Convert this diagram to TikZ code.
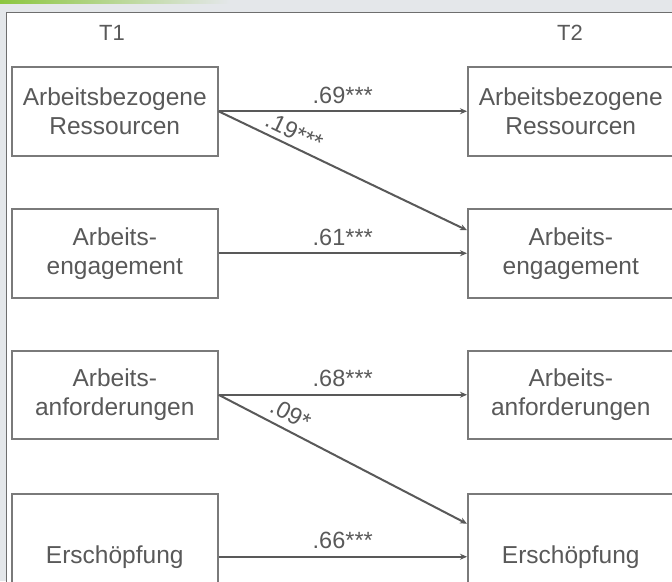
\documentclass[tikz,border=0pt]{standalone}
\usepackage{fontspec}
\setmainfont{Liberation Sans}
\usetikzlibrary{arrows.meta,calc}
\definecolor{txt}{HTML}{595959}
\definecolor{bordc}{HTML}{7A7A7A}
\definecolor{arrc}{HTML}{595959}
\definecolor{bgc}{HTML}{E4E7EA}
\definecolor{framec}{HTML}{6E6E6E}
\definecolor{grn}{HTML}{8CC63F}
\begin{document}
\begin{tikzpicture}[x=1pt,y=-1pt,
  var/.style={draw=bordc, line width=1.5pt, fill=white, text=txt,
    font=\fontsize{24.5}{29}\selectfont, align=center,
    minimum width=206pt, inner sep=0pt, anchor=north west},
  ttl/.style={text=txt, font=\fontsize{22}{26}\selectfont, inner sep=0pt},
  arr/.style={draw=arrc, line width=2pt, -{Stealth[length=7pt,width=6pt]}},
  lab/.style={text=txt, font=\fontsize{23.5}{27}\selectfont, inner sep=0pt}]
\useasboundingbox (0,0) rectangle (672,581);
\clip (0,0) rectangle (672,581);
\fill[bgc] (0,0) rectangle (672,581);
\shade[left color=grn, right color=bgc] (0,0) rectangle (230,3);
\filldraw[fill=white, draw=framec, line width=1pt] (6,12) rectangle (700,620);

\node[ttl] (t1) at (112,33) {T1};
\node[ttl] (t2) at (570,33) {T2};

\node[var, minimum height=89pt] (l1) at (11,66) {Arbeitsbezogene\\Ressourcen};
\node[var, minimum height=89pt] (l2) at (11,208) {Arbeits-\\engagement};
\node[var, minimum height=88pt] (l3) at (11,350) {Arbeits-\\anforderungen};
\node[var, minimum height=126pt] (l4) at (11,493) {Ersch\"opfung};

\node[var, minimum height=89pt] (r1) at (467,66) {Arbeitsbezogene\\Ressourcen};
\node[var, minimum height=89pt] (r2) at (467,208) {Arbeits-\\engagement};
\node[var, minimum height=88pt] (r3) at (467,350) {Arbeits-\\anforderungen};
\node[var, minimum height=126pt] (r4) at (467,493) {Ersch\"opfung};

\coordinate (r2in) at ($(r2.west)+(0,-23)$);
\coordinate (r4in) at ($(r4.west)+(0,-33)$);

\draw[arr] (l1.east) -- node[lab, midway, above=7pt] {.69***} (r1.west);
\draw[arr] (l1.east) -- node[lab, pos=0.28, sloped, above=5pt] {.19***} (r2in);
\draw[arr] (l2.east) -- node[lab, midway, above=7pt] {.61***} (r2.west);
\draw[arr] (l3.east) -- node[lab, midway, above=7pt] {.68***} (r3.west);
\draw[arr] (l3.east) -- node[lab, pos=0.26, sloped, above=7pt] {.09*} (r4in);
\draw[arr] (l4.east) -- node[lab, midway, above=7pt] {.66***} (r4.west);
\end{tikzpicture}
\end{document}
